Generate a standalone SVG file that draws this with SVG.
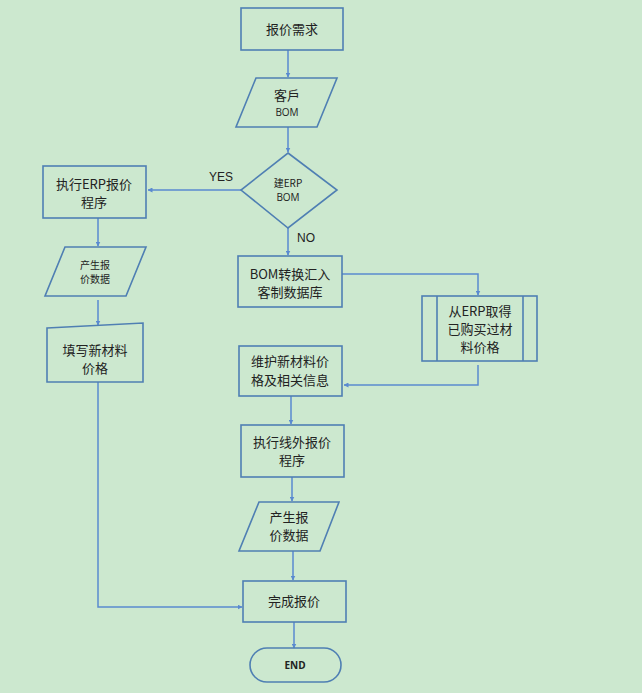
<svg xmlns="http://www.w3.org/2000/svg" width="642" height="693" viewBox="0 0 642 693">
<defs>
<marker id="arr" viewBox="0 0 10 10" refX="9" refY="5" markerWidth="5" markerHeight="5" orient="auto" markerUnits="userSpaceOnUse">
<path d="M0,0 L10,5 L0,10 Z" fill="#5a8ad0"/>
</marker>
<style>
.s{fill:none;stroke:#4f7fb3;stroke-width:1.6}
.c{fill:none;stroke:#5a8ad0;stroke-width:1.5;marker-end:url(#arr)}
.c0{fill:none;stroke:#5a8ad0;stroke-width:1.5}
text{font-family:"Noto Sans CJK SC","Liberation Sans",sans-serif;fill:#222;text-anchor:middle}
.t{font-size:13px}
.sm{font-size:10px}
.l{font-family:"Liberation Sans",sans-serif;font-size:12px}
</style>
</defs>
<rect width="642" height="693" fill="#cce8cf"/>
<g id="connectors">
<path class="c" d="M288,50 V77"/>
<path class="c" d="M288,127 V152"/>
<path class="c" d="M241,190 H148"/>
<path class="c" d="M288,228 V255"/>
<path class="c" d="M98,218 V246"/>
<path class="c" d="M98,300 V325"/>
<path class="c" d="M98,382 V607 H242"/>
<path class="c" d="M342,274 H478 V295"/>
<path class="c" d="M478,365 V385 H344"/>
<path class="c" d="M291,396 V424"/>
<path class="c" d="M292,477 V501"/>
<path class="c" d="M293,551 V580"/>
<path class="c" d="M294,622 V648"/>
<text class="l" x="221" y="181">YES</text>
<text class="l" x="306" y="242">NO</text>
</g>
<g id="n1">
<rect class="s" x="241" y="8" width="102" height="42"/>
<text class="t" x="292" y="34">报价需求</text>
</g>
<g id="n2">
<polygon class="s" points="256,78 337,78 317,127 236,127"/>
<text class="t" x="287" y="100">客戶</text>
<text class="sm" x="287" y="116" style="font-family:'Open Sans','Liberation Sans',sans-serif">BOM</text>
</g>
<g id="n3">
<polygon class="s" points="288,153 337,190 288,228 241,190"/>
<text class="sm" x="288" y="187">建ERP</text>
<text class="sm" x="288" y="201" style="font-family:'Open Sans','Liberation Sans',sans-serif">BOM</text>
</g>
<g id="n4">
<rect class="s" x="43" y="166" width="103" height="52"/>
<text class="t" x="94" y="189">执行ERP报价</text>
<text class="t" x="94" y="207">程序</text>
</g>
<g id="n5">
<polygon class="s" points="65,247 146,247 126,296 45,296"/>
<text class="sm" x="95" y="269">产生报</text>
<text class="sm" x="95" y="283">价数据</text>
</g>
<g id="n6">
<polygon class="s" points="47,328 143,323 143,382 47,382"/>
<text class="t" x="95" y="355">填写新材料</text>
<text class="t" x="95" y="373">价格</text>
</g>
<g id="n7">
<rect class="s" x="238" y="256" width="104" height="51"/>
<text class="t" x="290" y="279">BOM转换汇入</text>
<text class="t" x="290" y="297">客制数据库</text>
</g>
<g id="n8">
<rect class="s" x="422" y="296" width="115" height="65"/>
<line class="s" x1="437" y1="296" x2="437" y2="361"/>
<line class="s" x1="523" y1="296" x2="523" y2="361"/>
<text class="t" x="480" y="316">从ERP取得</text>
<text class="t" x="480" y="334">已购买过材</text>
<text class="t" x="480" y="352">料价格</text>
</g>
<g id="n9">
<rect class="s" x="239" y="346" width="103" height="50"/>
<text class="t" x="290" y="366">维护新材料价</text>
<text class="t" x="290" y="385">格及相关信息</text>
</g>
<g id="n10">
<rect class="s" x="241" y="425" width="103" height="52"/>
<text class="t" x="292" y="447">执行线外报价</text>
<text class="t" x="292" y="465">程序</text>
</g>
<g id="n11">
<polygon class="s" points="259,502 339,502 320,551 239,551"/>
<text class="t" x="289" y="522">产生报</text>
<text class="t" x="289" y="540">价数据</text>
</g>
<g id="n12">
<rect class="s" x="243" y="581" width="103" height="41"/>
<text class="t" x="294" y="606">完成报价</text>
</g>
<g id="n13">
<rect class="s" x="250" y="648" width="91" height="34" rx="17"/>
<text class="sm" x="295" y="669" style="font-weight:bold;font-family:'Open Sans','Liberation Sans',sans-serif">END</text>
</g>
</svg>
